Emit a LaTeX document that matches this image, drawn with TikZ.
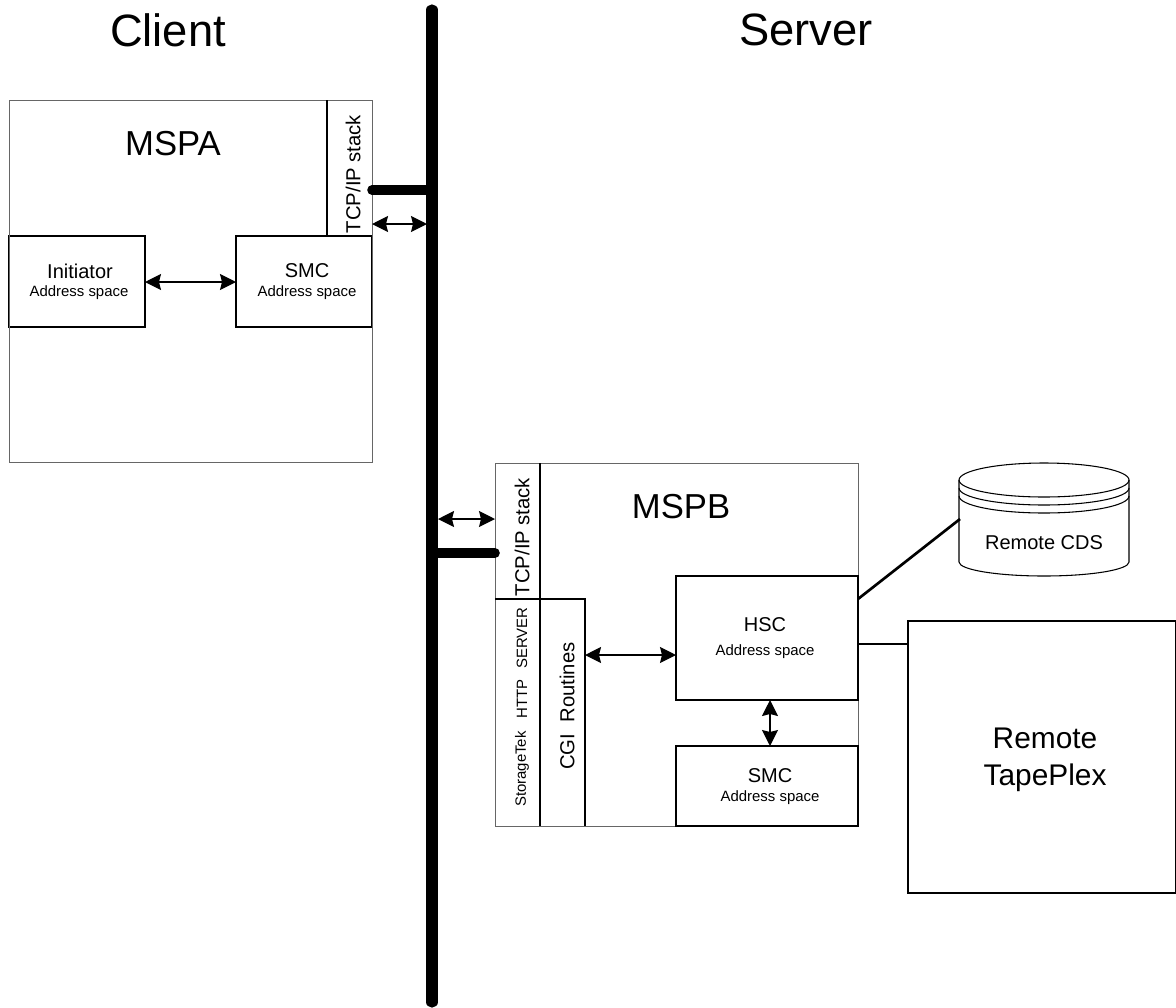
\documentclass[tikz,border=0pt]{standalone}
\usepackage{fontspec}
\setmainfont{Liberation Sans}
\usetikzlibrary{arrows.meta}
\tikzset{
  x=0.75pt,y=-0.75pt,
  thinline/.style={draw=black!60,line width=0.6pt},
  darkline/.style={draw=black,line width=1.05pt},
  heavy/.style={draw=black,line width=7.2pt,line cap=round},
  busline/.style={draw=black,line width=8.4pt,line cap=round},
  link/.style={draw=black,line width=2pt},
  cyl/.style={draw=black,line width=0.8pt},
  dbl/.style={draw=black,line width=1.05pt,{Stealth[length=12pt,width=12pt,inset=1.5pt]}-{Stealth[length=12pt,width=12pt,inset=1.5pt]}},
  huge/.style={font=\fontsize{34}{36}\selectfont,inner sep=0},
  big/.style={font=\fontsize{26}{28}\selectfont,inner sep=0},
  mid/.style={font=\fontsize{15.2}{17}\selectfont,inner sep=0},
  reg/.style={font=\fontsize{15}{17}\selectfont,inner sep=0},
  small/.style={font=\fontsize{11.2}{13}\selectfont,inner sep=0},
  vert/.style={rotate=90}
}
% name, x0, y0, x1, y1, style
\newcommand{\pixrect}[6]{%
  \coordinate (#1 nw) at (#2,#3);
  \coordinate (#1 se) at (#4,#5);
  \draw[#6] (#1 nw) rectangle (#1 se);
}
\begin{document}
\begin{tikzpicture}
\useasboundingbox (0,0) rectangle (1176,1007);
% titles
\node[huge] (client) at (168,30) {Client};
\node[huge] (server) at (806,30) {Server};
% MSPA
\pixrect{mspa}{9}{100}{372}{462}{thinline}
\pixrect{init}{9}{236}{145}{327}{darkline}
\pixrect{smca}{236}{236}{372}{327}{darkline}
\draw[darkline] (327,100) -- (327,236);
\draw[thinline] (372,100) -- (372,462);
\draw[thinline] (9,100) -- (9,462);
\node[big] (mspal) at (173,144) {MSPA};
\node[mid,vert] (tcpal) at (353,174) {TCP/IP stack};
\node[reg] (initl) at (80,271) {Initiator};
\node[small] (inits) at (79,293) {Address space};
\node[reg] (smcal) at (307,271) {SMC};
\node[small] (smcas) at (307,293) {Address space};
% bus
\coordinate (bust) at (432,10);
\coordinate (busb) at (432,1002);
\draw[busline] (bust) -- (busb);
\coordinate (stuba) at (372,190);
\coordinate (busa) at (432,190);
\draw[heavy] (stuba) -- (busa);
\coordinate (arra) at (372,224);
\coordinate (arrb) at (427,224);
\draw[dbl] (arra) -- (arrb);
% MSPB
\pixrect{mspb}{495}{463}{858}{826}{thinline}
\draw[darkline] (540,463) -- (540,826);
\draw[darkline] (495,599) -- (585,599) -- (585,826);
\pixrect{hsc}{676}{576}{858}{700}{darkline}
\pixrect{smcb}{676}{746}{858}{826}{darkline}
\node[big] (mspbl) at (681,507) {MSPB};
\node[mid,vert] (tcpbl) at (522,537) {TCP/IP stack};
\node[small,vert] (st) at (522,769) {StorageTek};
\node[small,vert] (http) at (522,699) {HTTP};
\node[small,vert] (srv) at (522,638) {SERVER};
\node[mid,vert] (cgi) at (567,706) {CGI\ \ Routines};
\node[reg] (hscl) at (765,625) {HSC};
\node[small] (hscs) at (765,652) {Address space};
\node[reg] (smcbl) at (770,776) {SMC};
\node[small] (smcbs) at (770,798) {Address space};
\coordinate (stubb) at (495,553);
\coordinate (busc) at (432,553);
\draw[heavy] (stubb) -- (busc);
\coordinate (arrc) at (438,519);
\coordinate (arrd) at (495,519);
\draw[dbl] (arrc) -- (arrd);
\coordinate (arre) at (585,655);
\coordinate (arrf) at (676,655);
\draw[dbl] (arre) -- (arrf);
\coordinate (arrg) at (770,700);
\coordinate (arrh) at (770,746);
\draw[dbl] (arrg) -- (arrh);
\coordinate (arri) at (145,282);
\coordinate (arrj) at (236,282);
\draw[dbl] (arri) -- (arrj);
% remote tapeplex
\pixrect{tape}{908}{621}{1176}{893}{darkline}
\node[font=\fontsize{22.4}{28}\selectfont,align=center,inner sep=0] (tapel) at (1045,759.5) {Remote\\TapePlex};
\coordinate (hsct) at (858,644);
\coordinate (tapew) at (908,644);
\draw[link] (hsct) -- (tapew);
% CDS cylinder
\draw[cyl,fill=white] (959,480) arc[start angle=180,end angle=360,x radius=85,y radius=17]
  -- (1129,562) arc[start angle=0,end angle=180,x radius=85,y radius=14] -- cycle;
\draw[cyl] (959,480) arc[start angle=180,end angle=0,x radius=85,y radius=17];
\draw[cyl] (959,488) arc[start angle=180,end angle=0,x radius=85,y radius=17];
\draw[cyl] (959,496) arc[start angle=180,end angle=0,x radius=85,y radius=17];
\node[reg] (cds) at (1044,543) {Remote CDS};
\coordinate (hscr) at (858,599);
\coordinate (cdsw) at (960,519);
\draw[link] (hscr) -- (cdsw);
\end{tikzpicture}
\end{document}
